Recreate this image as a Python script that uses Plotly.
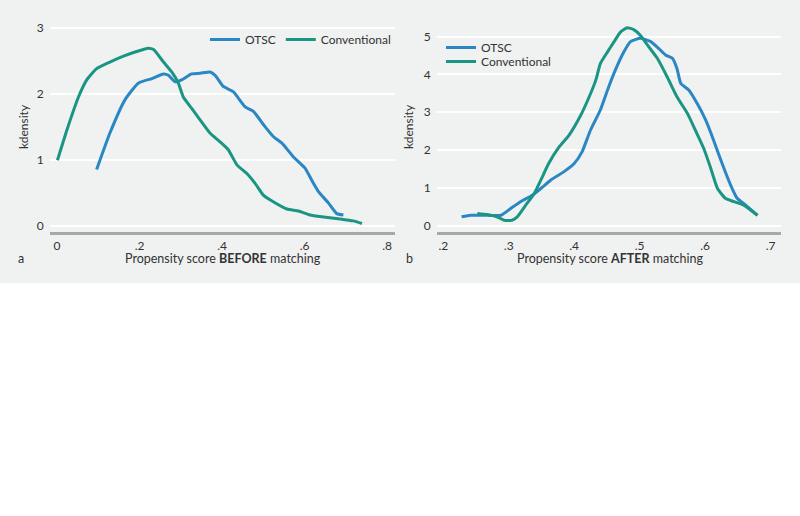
import plotly.graph_objects as go

# Panel a: BEFORE matching
a_otsc_x = [0.096, 0.128, 0.165, 0.197, 0.230, 0.258, 0.270, 0.286, 0.302, 0.326, 0.347, 0.371, 0.383,
            0.403, 0.427, 0.456, 0.476, 0.504, 0.524, 0.545, 0.573, 0.601, 0.617, 0.634, 0.658, 0.678, 0.694]
a_otsc_y = [0.85, 1.40, 1.91, 2.16, 2.23, 2.30, 2.28, 2.18, 2.21, 2.30, 2.31, 2.33, 2.28,
            2.11, 2.03, 1.80, 1.73, 1.50, 1.35, 1.25, 1.04, 0.87, 0.69, 0.51, 0.34, 0.18, 0.16]
a_conv_x = [0.001, 0.024, 0.052, 0.072, 0.096, 0.128, 0.161, 0.193, 0.221, 0.234, 0.258, 0.278, 0.294,
            0.306, 0.326, 0.347, 0.371, 0.395, 0.415, 0.436, 0.460, 0.480, 0.500, 0.524, 0.557, 0.585,
            0.613, 0.646, 0.686, 0.718, 0.739]
a_conv_y = [0.99, 1.45, 1.95, 2.21, 2.38, 2.48, 2.57, 2.64, 2.69, 2.67, 2.48, 2.33, 2.16,
            1.95, 1.78, 1.60, 1.40, 1.27, 1.15, 0.92, 0.79, 0.64, 0.46, 0.36, 0.25, 0.22,
            0.16, 0.13, 0.10, 0.07, 0.03]

# Panel b: AFTER matching
b_otsc_x = [0.228, 0.242, 0.267, 0.288, 0.303, 0.318, 0.336, 0.349, 0.364, 0.384, 0.400, 0.412, 0.425,
            0.440, 0.451, 0.463, 0.476, 0.486, 0.501, 0.517, 0.529, 0.540, 0.550, 0.557, 0.563, 0.575,
            0.588, 0.601, 0.613, 0.626, 0.639, 0.649, 0.662, 0.680]
b_otsc_y = [0.23, 0.27, 0.27, 0.27, 0.45, 0.63, 0.80, 0.98, 1.20, 1.42, 1.64, 1.95, 2.53,
            3.06, 3.59, 4.12, 4.60, 4.87, 4.96, 4.87, 4.69, 4.51, 4.43, 4.16, 3.76, 3.59,
            3.23, 2.79, 2.26, 1.64, 1.07, 0.72, 0.54, 0.27]
b_conv_x = [0.252, 0.267, 0.282, 0.293, 0.305, 0.313, 0.326, 0.339, 0.349, 0.361, 0.377, 0.392, 0.410,
            0.423, 0.433, 0.440, 0.451, 0.461, 0.471, 0.481, 0.491, 0.501, 0.514, 0.527, 0.542, 0.557,
            0.573, 0.585, 0.598, 0.608, 0.619, 0.631, 0.644, 0.659, 0.680]
b_conv_y = [0.32, 0.29, 0.23, 0.14, 0.14, 0.23, 0.54, 0.85, 1.20, 1.64, 2.08, 2.39, 2.92,
            3.41, 3.85, 4.29, 4.60, 4.87, 5.13, 5.24, 5.19, 5.04, 4.73, 4.43, 3.94, 3.41,
            2.97, 2.53, 2.04, 1.55, 0.98, 0.72, 0.63, 0.54, 0.27]

a_xticks = [0, 0.2, 0.4, 0.6, 0.8]
a_xticktext = ["0", ".2", ".4", ".6", ".8"]
a_yticks = [0, 1, 2, 3]
b_xticks = [0.2, 0.3, 0.4, 0.5, 0.6, 0.7]
b_xticktext = [".2", ".3", ".4", ".5", ".6", ".7"]
b_yticks = [0, 1, 2, 3, 4, 5]

series_names = ["OTSC", "Conventional"]

BLUE = "#2a87c4"
TEAL = "#1a9583"
BG = "#f0f1f1"
FONT = "Lato, Open Sans, sans-serif"
TXT = "#333333"

W, H = 800, 516
def px(x):
    return x / W
def py(y):
    return 1 - y / H

fig = go.Figure()
lw = 3
spl = dict(shape="spline", smoothing=0.5)
fig.add_trace(go.Scatter(x=a_otsc_x, y=a_otsc_y, mode="lines", name=series_names[0],
                         line=dict(color=BLUE, width=lw, **spl),
                         xaxis="x", yaxis="y", legend="legend"))
fig.add_trace(go.Scatter(x=a_conv_x, y=a_conv_y, mode="lines", name=series_names[1],
                         line=dict(color=TEAL, width=lw, **spl),
                         xaxis="x", yaxis="y", legend="legend"))
fig.add_trace(go.Scatter(x=b_otsc_x, y=b_otsc_y, mode="lines", name=series_names[0],
                         line=dict(color=BLUE, width=lw, **spl),
                         xaxis="x2", yaxis="y2", legend="legend2"))
fig.add_trace(go.Scatter(x=b_conv_x, y=b_conv_y, mode="lines", name=series_names[1],
                         line=dict(color=TEAL, width=lw, **spl),
                         xaxis="x2", yaxis="y2", legend="legend3"))

ytop, ybot = 10, 231.5
common_x = dict(showgrid=False, zeroline=False, showline=True, linecolor="#a8a8a8", linewidth=2.5,
                ticks="outside", ticklen=1, tickcolor="rgba(0,0,0,0)",
                tickfont=dict(family=FONT, size=12, color=TXT), fixedrange=True)
common_y = dict(showgrid=True, gridcolor="#ffffff", gridwidth=2, zeroline=False, showline=False,
                ticks="outside", ticklen=3, tickcolor="rgba(0,0,0,0)",
                tickfont=dict(family=FONT, size=12, color=TXT), fixedrange=True)

leg_common = dict(bgcolor="rgba(0,0,0,0)", font=dict(family=FONT, size=12, color=TXT),
                  itemwidth=30, tracegroupgap=0, xanchor="left", yanchor="top")

def ann(text, x, y, angle=0, size=12.5):
    return dict(text=text, x=px(x), y=py(y), xref="paper", yref="paper", showarrow=False,
                xanchor="center", yanchor="middle", textangle=angle,
                font=dict(family=FONT, size=size, color=TXT))

fig.update_layout(
    width=W, height=H,
    margin=dict(l=0, r=0, t=0, b=0, autoexpand=False),
    paper_bgcolor="#ffffff",
    plot_bgcolor="rgba(0,0,0,0)",
    font=dict(family=FONT, size=12, color=TXT),
    xaxis=dict(domain=[px(50), px(395)], range=[-0.017, 0.819], anchor="y",
               tickvals=a_xticks, ticktext=a_xticktext, **common_x),
    yaxis=dict(domain=[py(ybot), py(ytop)], range=[-0.091, 3.270], anchor="x",
               tickvals=a_yticks, **common_y),
    xaxis2=dict(domain=[px(437), px(781)], range=[0.1904, 0.7160], anchor="y2",
                tickvals=b_xticks, ticktext=b_xticktext, **common_x),
    yaxis2=dict(domain=[py(ybot), py(ytop)], range=[-0.159, 5.708], anchor="x2",
                tickvals=b_yticks, **common_y),
    legend=dict(orientation="h", x=px(205), y=py(25), **leg_common),
    legend2=dict(orientation="v", x=px(441), y=py(33), **leg_common),
    legend3=dict(orientation="v", x=px(441), y=py(47), **leg_common),
    shapes=[dict(type="rect", xref="paper", yref="paper", x0=0, x1=1, y0=py(283), y1=1,
                 fillcolor=BG, line=dict(width=0), layer="below")],
    annotations=[
        ann("Propensity score <b>BEFORE</b> matching", 223, 258),
        ann("Propensity score <b>AFTER</b> matching", 610, 258),
        ann("a", 21, 258),
        ann("b", 409, 258),
        ann("kdensity", 23, 127, angle=-90, size=12),
        ann("kdensity", 408, 127, angle=-90, size=12),
    ],
)

fig.write_html("out.html", config={"displayModeBar": False},
               post_script="document.body.style.margin='0';document.body.style.padding='0';")
